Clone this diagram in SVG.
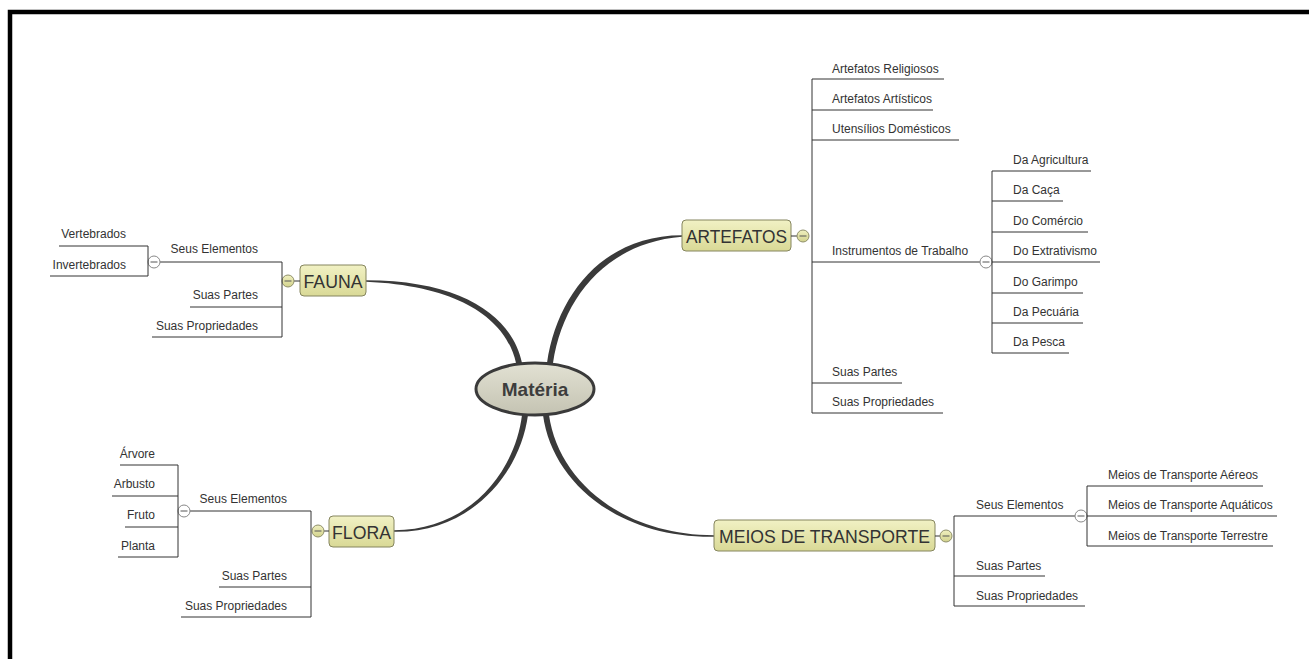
<svg xmlns="http://www.w3.org/2000/svg" width="1309" height="659" viewBox="0 0 1309 659">
  <defs>
    <linearGradient id="topicFill" x1="0" y1="0" x2="0" y2="1">
      <stop offset="0" stop-color="#f1f1c4"/>
      <stop offset="1" stop-color="#d9d996"/>
    </linearGradient>
    <linearGradient id="centralFill" x1="0" y1="0" x2="0" y2="1">
      <stop offset="0" stop-color="#e2e1d3"/>
      <stop offset="1" stop-color="#c4c3b2"/>
    </linearGradient>
    <linearGradient id="toggleFill" x1="0" y1="0" x2="0" y2="1">
      <stop offset="0" stop-color="#f0f0c0"/>
      <stop offset="1" stop-color="#d2d28c"/>
    </linearGradient>
  </defs>
  <style>
    .label { font-family: "Liberation Sans", Arial, sans-serif; font-size: 12px; fill: #333; }
    .end { text-anchor: end; }
    .topic { fill: url(#topicFill); stroke: #85855e; stroke-width: 1; }
    .topicText { font-family: "Liberation Sans", Arial, sans-serif; font-size: 17.5px; fill: #333; text-anchor: middle; }
    .line { stroke: #333; stroke-width: 1; fill: none; }
    .toggle { fill: url(#toggleFill); stroke: #8f8f6a; stroke-width: 1; }
    .subToggle { fill: #fff; stroke: #888; stroke-width: 1; }
    .minus { stroke: #555; stroke-width: 1; }
    .branch { fill: #3a3a3a; }
  </style>

  <rect width="1309" height="659" fill="#fff"/>
  <!-- page frame -->
  <path d="M10,659 V12 H1309" fill="none" stroke="#000" stroke-width="4.5"/>

  <!-- tapered main branches -->
  <g id="connectors">
    <path class="branch" d="M547,363 C557,294 604,235.2 682,235.2 L682,236.8 C606,243 563,298 553,363 Z"/>
    <path class="branch" d="M522,363 C513,319 466,280.2 366,280.2 L366,281.8 C464,286 507,322 516,363 Z"/>
    <path class="branch" d="M522,415 C515,472 469,530.2 394,530.2 L394,531.8 C471,533 520,474 528,415 Z"/>
    <path class="branch" d="M549,415 C558,480 622,535.2 714,535.2 L714,536.8 C618,538 552,482 543,415 Z"/>
  </g>

  <!-- central topic -->
  <g id="materia">
    <ellipse cx="535" cy="389" rx="59" ry="26" fill="url(#centralFill)" stroke="#3a3a3a" stroke-width="3"/>
    <text x="535" y="396" font-family="'Liberation Sans', Arial, sans-serif" font-size="19" font-weight="bold" fill="#3d3d3d" text-anchor="middle">Matéria</text>
  </g>

  <!-- ARTEFATOS -->
  <g id="artefatos">
    <rect class="topic" x="682" y="220" width="109" height="31" rx="4"/>
    <text class="topicText" x="736.5" y="242.5" textLength="101" lengthAdjust="spacingAndGlyphs">ARTEFATOS</text>
    <line class="line" x1="791" y1="236" x2="797" y2="236"/>
    <circle class="toggle" cx="803" cy="236" r="6"/>
    <line class="minus" x1="799.5" y1="236" x2="806.5" y2="236"/>
    <line class="line" x1="812" y1="79" x2="812" y2="413"/>
  </g>
  <g id="artefatos-religiosos">
    <line class="line" x1="812" y1="79" x2="944" y2="79"/>
    <text class="label" x="832" y="73">Artefatos Religiosos</text>
  </g>
  <g id="artefatos-artisticos">
    <line class="line" x1="812" y1="110" x2="933" y2="110"/>
    <text class="label" x="832" y="103">Artefatos Artísticos</text>
  </g>
  <g id="utensilios-domesticos">
    <line class="line" x1="812" y1="140" x2="959" y2="140"/>
    <text class="label" x="832" y="133">Utensílios Domésticos</text>
  </g>
  <g id="instrumentos-de-trabalho">
    <line class="line" x1="812" y1="262" x2="980" y2="262"/>
    <text class="label" x="832" y="255">Instrumentos de Trabalho</text>
    <circle class="subToggle" cx="986" cy="262" r="6"/>
    <line class="minus" x1="982.5" y1="262" x2="989.5" y2="262"/>
    <line class="line" x1="992" y1="171" x2="992" y2="353"/>
  </g>
  <g id="da-agricultura">
    <line class="line" x1="992" y1="171" x2="1091" y2="171"/>
    <text class="label" x="1013" y="164">Da Agricultura</text>
  </g>
  <g id="da-caca">
    <line class="line" x1="992" y1="201" x2="1063" y2="201"/>
    <text class="label" x="1013" y="194">Da Caça</text>
  </g>
  <g id="do-comercio">
    <line class="line" x1="992" y1="232" x2="1088" y2="232"/>
    <text class="label" x="1013" y="225">Do Comércio</text>
  </g>
  <g id="do-extrativismo">
    <line class="line" x1="992" y1="262" x2="1100" y2="262"/>
    <text class="label" x="1013" y="255">Do Extrativismo</text>
  </g>
  <g id="do-garimpo">
    <line class="line" x1="992" y1="293" x2="1083" y2="293"/>
    <text class="label" x="1013" y="286">Do Garimpo</text>
  </g>
  <g id="da-pecuaria">
    <line class="line" x1="992" y1="323" x2="1083" y2="323"/>
    <text class="label" x="1013" y="316">Da Pecuária</text>
  </g>
  <g id="da-pesca">
    <line class="line" x1="992" y1="353" x2="1069" y2="353"/>
    <text class="label" x="1013" y="346">Da Pesca</text>
  </g>
  <g id="artefatos-suas-partes">
    <line class="line" x1="812" y1="383" x2="902" y2="383"/>
    <text class="label" x="832" y="376">Suas Partes</text>
  </g>
  <g id="artefatos-suas-propriedades">
    <line class="line" x1="812" y1="413" x2="943" y2="413"/>
    <text class="label" x="832" y="406">Suas Propriedades</text>
  </g>

  <!-- FAUNA -->
  <g id="fauna">
    <rect class="topic" x="300" y="265" width="66" height="31" rx="4"/>
    <text class="topicText" x="333" y="287.5" textLength="59" lengthAdjust="spacingAndGlyphs">FAUNA</text>
    <line class="line" x1="294" y1="281" x2="300" y2="281"/>
    <circle class="toggle" cx="288" cy="281" r="6"/>
    <line class="minus" x1="284.5" y1="281" x2="291.5" y2="281"/>
    <line class="line" x1="282" y1="262" x2="282" y2="337"/>
  </g>
  <g id="fauna-seus-elementos">
    <line class="line" x1="160" y1="262" x2="282" y2="262"/>
    <text class="label end" x="258" y="253">Seus Elementos</text>
    <circle class="subToggle" cx="154" cy="262" r="6"/>
    <line class="minus" x1="150.5" y1="262" x2="157.5" y2="262"/>
    <line class="line" x1="148" y1="246" x2="148" y2="276"/>
  </g>
  <g id="vertebrados">
    <line class="line" x1="59" y1="246" x2="148" y2="246"/>
    <text class="label end" x="126" y="238">Vertebrados</text>
  </g>
  <g id="invertebrados">
    <line class="line" x1="50" y1="276" x2="148" y2="276"/>
    <text class="label end" x="126" y="269">Invertebrados</text>
  </g>
  <g id="fauna-suas-partes">
    <line class="line" x1="190" y1="307" x2="282" y2="307"/>
    <text class="label end" x="258" y="299">Suas Partes</text>
  </g>
  <g id="fauna-suas-propriedades">
    <line class="line" x1="152" y1="337" x2="282" y2="337"/>
    <text class="label end" x="258" y="330">Suas Propriedades</text>
  </g>

  <!-- FLORA -->
  <g id="flora">
    <rect class="topic" x="329" y="516" width="65" height="31" rx="4"/>
    <text class="topicText" x="361.5" y="538.5" textLength="59" lengthAdjust="spacingAndGlyphs">FLORA</text>
    <line class="line" x1="324" y1="531" x2="329" y2="531"/>
    <circle class="toggle" cx="318" cy="531" r="6"/>
    <line class="minus" x1="314.5" y1="531" x2="321.5" y2="531"/>
    <line class="line" x1="311" y1="511" x2="311" y2="617"/>
  </g>
  <g id="flora-seus-elementos">
    <line class="line" x1="190" y1="511" x2="311" y2="511"/>
    <text class="label end" x="287" y="503">Seus Elementos</text>
    <circle class="subToggle" cx="184" cy="511" r="6"/>
    <line class="minus" x1="180.5" y1="511" x2="187.5" y2="511"/>
    <line class="line" x1="178" y1="465" x2="178" y2="557"/>
  </g>
  <g id="arvore">
    <line class="line" x1="120" y1="465" x2="178" y2="465"/>
    <text class="label end" x="155" y="458">Árvore</text>
  </g>
  <g id="arbusto">
    <line class="line" x1="112" y1="496" x2="178" y2="496"/>
    <text class="label end" x="155" y="488">Arbusto</text>
  </g>
  <g id="fruto">
    <line class="line" x1="125" y1="527" x2="178" y2="527"/>
    <text class="label end" x="155" y="519">Fruto</text>
  </g>
  <g id="planta">
    <line class="line" x1="118" y1="557" x2="178" y2="557"/>
    <text class="label end" x="155" y="550">Planta</text>
  </g>
  <g id="flora-suas-partes">
    <line class="line" x1="219" y1="587" x2="311" y2="587"/>
    <text class="label end" x="287" y="580">Suas Partes</text>
  </g>
  <g id="flora-suas-propriedades">
    <line class="line" x1="181" y1="617" x2="311" y2="617"/>
    <text class="label end" x="287" y="610">Suas Propriedades</text>
  </g>

  <!-- MEIOS DE TRANSPORTE -->
  <g id="meios-de-transporte">
    <rect class="topic" x="714" y="520" width="221" height="31" rx="4"/>
    <text class="topicText" x="824.5" y="542.5" textLength="211" lengthAdjust="spacingAndGlyphs">MEIOS DE TRANSPORTE</text>
    <line class="line" x1="935" y1="536" x2="940" y2="536"/>
    <circle class="toggle" cx="946" cy="536" r="6"/>
    <line class="minus" x1="942.5" y1="536" x2="949.5" y2="536"/>
    <line class="line" x1="954" y1="516" x2="954" y2="606"/>
  </g>
  <g id="meios-seus-elementos">
    <line class="line" x1="954" y1="516" x2="1075" y2="516"/>
    <text class="label" x="976" y="509">Seus Elementos</text>
    <circle class="subToggle" cx="1081" cy="516" r="6"/>
    <line class="minus" x1="1077.5" y1="516" x2="1084.5" y2="516"/>
    <line class="line" x1="1087" y1="486" x2="1087" y2="546"/>
  </g>
  <g id="transporte-aereos">
    <line class="line" x1="1087" y1="486" x2="1263" y2="486"/>
    <text class="label" x="1108" y="479">Meios de Transporte Aéreos</text>
  </g>
  <g id="transporte-aquaticos">
    <line class="line" x1="1087" y1="516" x2="1277" y2="516"/>
    <text class="label" x="1108" y="509">Meios de Transporte Aquáticos</text>
  </g>
  <g id="transporte-terrestre">
    <line class="line" x1="1087" y1="546" x2="1273" y2="546"/>
    <text class="label" x="1108" y="540">Meios de Transporte Terrestre</text>
  </g>
  <g id="meios-suas-partes">
    <line class="line" x1="954" y1="576" x2="1045" y2="576"/>
    <text class="label" x="976" y="570">Suas Partes</text>
  </g>
  <g id="meios-suas-propriedades">
    <line class="line" x1="954" y1="606" x2="1085" y2="606"/>
    <text class="label" x="976" y="600">Suas Propriedades</text>
  </g>
</svg>
